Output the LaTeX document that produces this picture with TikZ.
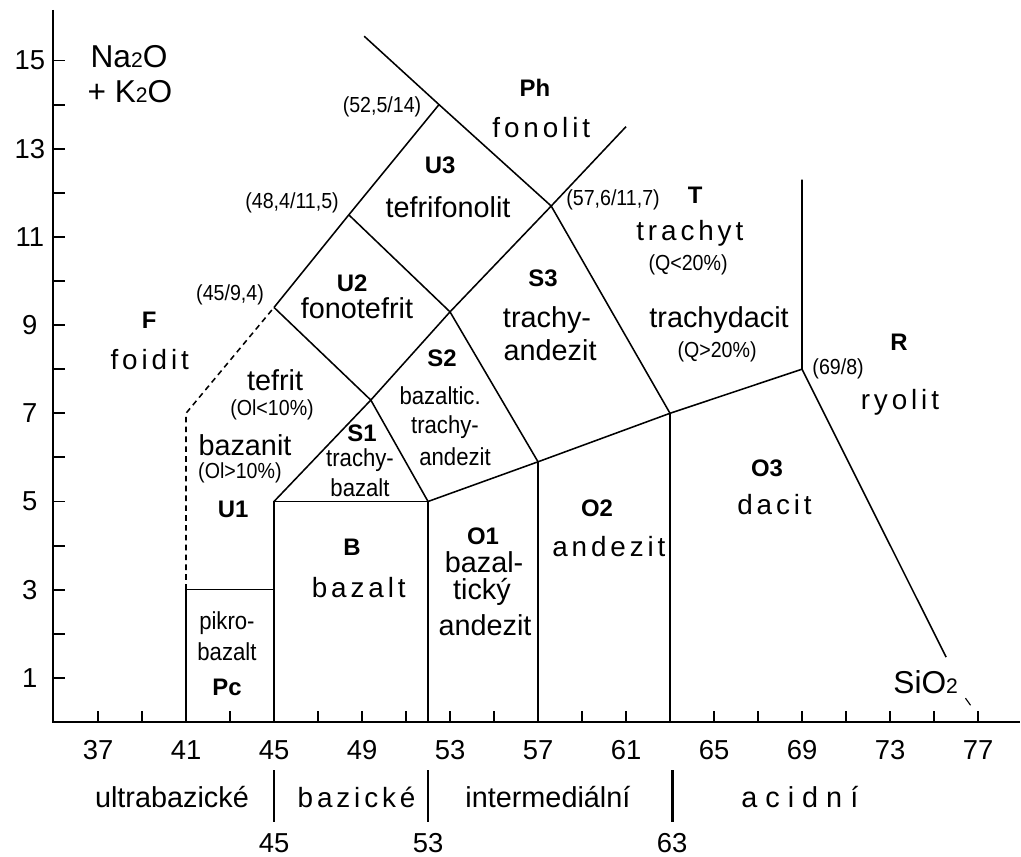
\documentclass[tikz,border=0pt]{standalone}
\usepackage{fontspec}
\setmainfont{Liberation Sans}
\newfontfamily\spacedfont[LetterSpace=14]{Liberation Sans}
\newfontfamily\narrowfont[FakeStretch=0.9]{Liberation Sans}
\newcommand{\idx}[1]{{\fontsize{15}{15}\selectfont #1}}

\begin{document}
\begin{tikzpicture}[
      x=0.55cm, y=1.1025cm,
      every node/.style={inner sep=0pt},
      field/.style={font=\fontsize{20.5}{22}\selectfont},
      spaced/.style={font=\spacedfont\fontsize{19.8}{21}\selectfont},
      small/.style={font=\narrowfont\fontsize{17.5}{19}\selectfont},
      code/.style={font=\bfseries\fontsize{17}{19}\selectfont},
      note/.style={font=\narrowfont\fontsize{15.5}{17}\selectfont},
      num/.style={font=\fontsize{19.5}{21}\selectfont},
      border/.style={line width=1.1pt},
      axis/.style={line width=1.9pt},
      ]
    \useasboundingbox (32.545,-3.039) rectangle (78.955,16.372);

    % Corner points of the fields
    \coordinate (pcBase) at (41,0);
    \coordinate (pcTop) at (41,3);
    \coordinate (pcRight) at (45,3);
    \coordinate (foTop) at (41,7);
    \coordinate (u1Top) at (45,9.4);
    \coordinate (u2Top) at (48.4,11.5);
    \coordinate (u3Top) at (52.5,14);
    \coordinate (phEnd) at (49.1,15.55);
    \coordinate (tJoint) at (57.6,11.7);
    \coordinate (phRight) at (61,13.5);
    \coordinate (s1Top) at (49.4,7.3);
    \coordinate (s2Top) at (53,9.3);
    \coordinate (bLeft) at (45,5);
    \coordinate (bRight) at (52,5);
    \coordinate (o1Top) at (57,5.9);
    \coordinate (o2Top) at (63,7);
    \coordinate (rCorner) at (69,8);
    \coordinate (rTop) at (69,12.3);
    \coordinate (rEnd) at (75.55,1.47);
    \coordinate (bBase) at (45,0);
    \coordinate (o1Base) at (52,0);
    \coordinate (o2Base) at (57,0);
    \coordinate (o3Base) at (63,0);
    \coordinate (origin) at (34.95,0);
    \coordinate (yEnd) at (34.95,16.15);
    \coordinate (xEnd) at (78.9,0);

    % Axes
    \draw[axis] (yEnd) -- (origin) -- (xEnd);
    \foreach \v in {1,...,15}
      \draw[line width=1.4pt] (34.95,\v) -- ++(0.55,0);
    \foreach \s in {37,39,...,77}
      \draw[line width=1.4pt] (\s,0) -- ++(0,0.24);
    \foreach \v in {1,3,...,15}
      \node[num] (y\v) at (33.9,\v) {\v};
    \foreach \s in {37,41,...,77}
      \node[num] (x\s) at (\s,-0.64) {\s};

    % Field boundaries
    \draw[border] (pcBase) -- (pcTop) -- (pcRight);
    \draw[border,dashed,dash pattern=on 4pt off 3pt] (pcTop) -- (foTop) -- (u1Top);
    \draw[border] (bBase) -- (bLeft) -- (bRight) -- (o1Base);
    \draw[border] (bLeft) -- (s1Top) -- (s2Top) -- (tJoint) -- (phRight);
    \draw[border] (u1Top) -- (u2Top) -- (u3Top);
    \draw[border] (phEnd) -- (u3Top) -- (tJoint) -- (o2Top);
    \draw[border] (u1Top) -- (s1Top) -- (bRight);
    \draw[border] (u2Top) -- (s2Top) -- (o1Top);
    \draw[border] (bRight) -- (o1Top) -- (o2Top) -- (rCorner);
    \draw[border] (o2Base) -- (o1Top);
    \draw[border] (o3Base) -- (o2Top);
    \draw[border] (rTop) -- (rCorner) -- (rEnd);

    % Axis titles
    \node[font=\fontsize{22.5}{24}\selectfont] (naTitle) at (38.41,15.08) {Na\idx{2}O};
    \node[font=\fontsize{22.5}{24}\selectfont] (kTitle) at (38.45,14.29) {+ K\idx{2}O};
    \node[font=\fontsize{22.5}{24}\selectfont] (siTitle) at (74.62,0.9) {SiO\idx{2}};
    \coordinate (tickA) at (76.43,0.54);
    \coordinate (tickB) at (76.66,0.38);
    \draw[line width=0.8pt] (tickA) -- (tickB);

    % Corner values
    \node[note] (p1) at (49.91,13.95) {(52,5/14)};
    \node[note] (p2) at (45.82,11.77) {(48,4/11,5)};
    \node[note] (p3) at (60.41,11.84) {(57,6/11,7)};
    \node[note] (p4) at (43.0,9.68) {(45/9,4)};
    \node[note] (p5) at (70.64,8.0) {(69/8)};

    % Field names
    \node[code] (phCode) at (56.86,14.38) {Ph};
    \node[spaced] (phName) at (57.15,13.47) {fonolit};
    \node[code] (u3Code) at (52.55,12.63) {U3};
    \node[field] (u3Name) at (52.91,11.68) {tefrifonolit};
    \node[code] (u2Code) at (48.55,9.95) {U2};
    \node[field] (u2Name) at (48.77,9.39) {fonotefrit};
    \node[code] (tCode) at (64.14,11.95) {T};
    \node[spaced] (tName) at (63.9,11.09) {trachyt};
    \node[note] (tNote) at (63.82,10.36) {(Q<20\%)};
    \node[field] (tdName) at (65.23,9.12) {trachydacit};
    \node[note] (tdNote) at (65.14,8.39) {(Q>20\%)};
    \node[code] (rCode) at (73.41,8.62) {R};
    \node[spaced] (rName) at (73.45,7.26) {ryolit};
    \node[code] (fCode) at (39.32,9.12) {F};
    \node[spaced] (fName) at (39.35,8.21) {foidit};
    \node[field] (tefName) at (45.05,7.76) {tefrit};
    \node[note] (tefNote) at (44.91,7.07) {(Ol<10\%)};
    \node[field] (bazName) at (43.68,6.28) {bazanit};
    \node[note] (bazNote) at (43.45,5.65) {(Ol>10\%)};
    \node[code] (u1Code) at (43.14,4.81) {U1};
    \node[code] (s3Code) at (57.23,10.07) {S3};
    \node[field] (s3NameA) at (57.41,9.12) {trachy-};
    \node[field] (s3NameB) at (57.55,8.44) {andezit};
    \node[code] (s2Code) at (52.64,8.25) {S2};
    \node[small] (s2NameA) at (52.55,7.41) {bazaltic.};
    \node[small] (s2NameB) at (52.77,6.69) {trachy-};
    \node[small] (s2NameC) at (53.23,6.01) {andezit};
    \node[code] (s1Code) at (49.0,6.55) {S1};
    \node[small] (s1NameA) at (48.91,5.94) {trachy-};
    \node[small] (s1NameB) at (48.91,5.31) {bazalt};
    \node[code] (bCode) at (48.55,3.97) {B};
    \node[spaced] (bName) at (48.85,3.04) {bazalt};
    \node[code] (o1Code) at (54.5,4.2) {O1};
    \node[field] (o1NameA) at (54.55,3.63) {bazal-};
    \node[field] (o1NameB) at (54.45,2.95) {tický};
    \node[field] (o1NameC) at (54.59,2.2) {andezit};
    \node[code] (o2Code) at (59.68,4.85) {O2};
    \node[spaced] (o2Name) at (60.22,3.97) {andezit};
    \node[code] (o3Code) at (67.41,5.76) {O3};
    \node[spaced] (o3Name) at (67.75,4.92) {dacit};
    \node[small] (pcNameA) at (42.86,2.24) {pikro-};
    \node[small] (pcNameB) at (42.86,1.59) {bazalt};
    \node[code] (pcCode) at (42.86,0.79) {Pc};

    % Rock groups below the axis
    \node[field] (gUltra) at (40.36,-1.7) {ultrabazické};
    \node[spaced] (gBasic) at (48.75,-1.7) {bazické};
    \node[field] (gInter) at (57.45,-1.7) {intermediální};
    \node[field] (gAcid) at (68.9,-1.7) {a c i d n í};
    \foreach \s/\t in {45/45,52/53,63.1/63} {
      \draw[axis] (\s,-1.09) -- (\s,-2.27);
      \node[num] (g\t) at (\s,-2.74) {\t};
    }

  \end{tikzpicture}
\end{document}
